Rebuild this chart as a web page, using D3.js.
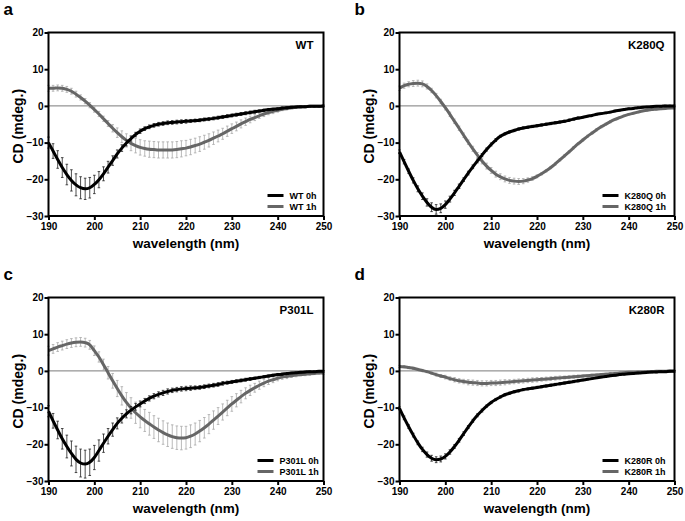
<!DOCTYPE html>
<html>
<head>
<meta charset="utf-8">
<script src="https://cdn.jsdelivr.net/npm/d3@7"></script>
<style>
  body { margin: 0; background: #fff; }
  svg text { font-family: "Liberation Sans", Arial, Helvetica, sans-serif; font-weight: bold; fill: #000; }
</style>
</head>
<body>
<svg id="fig" width="685" height="521"></svg>
<script>
// wavelength grid (nm), one reading per nm
const wavelengths = [190,191,192,193,194,195,196,197,198,199,200,201,202,203,204,205,206,207,208,209,
  210,211,212,213,214,215,216,217,218,219,220,221,222,223,224,225,226,227,228,229,
  230,231,232,233,234,235,236,237,238,239,240,241,242,243,244,245,246,247,248,249,250];

const xTicks = [190, 200, 210, 220, 230, 240, 250];
const yTicks = [-30, -20, -10, 0, 10, 20];

// CD (mdeg.)
const wt0h = [-10.0,-12.3,-14.6,-16.8,-18.7,-20.3,-21.5,-22.3,-22.6,-22.3,-21.4,-20.1,-18.5,-16.7,-14.9,-13.1,-11.5,-10.1,-8.9,-7.8,
  -6.9,-6.2,-5.7,-5.3,-5.0,-4.8,-4.6,-4.5,-4.4,-4.3,-4.2,-4.1,-4.0,-3.9,-3.7,-3.6,-3.4,-3.2,-3.0,-2.8,
  -2.6,-2.4,-2.2,-2.0,-1.8,-1.6,-1.4,-1.2,-1.0,-0.9,-0.8,-0.6,-0.5,-0.4,-0.3,-0.2,-0.2,-0.1,-0.1,-0.1,0.0];
const wt0hErr = [1.5,2.0,2.4,2.7,2.8,2.9,3.0,3.0,2.9,2.8,2.5,2.2,1.9,1.6,1.3,1.1,0.9,0.8,0.7,0.6,
  0.6,0.5,0.5,0.5,0.5,0.5,0.5,0.5,0.5,0.5,0.5,0.4,0.4,0.4,0.4,0.4,0.4,0.4,0.4,0.4,
  0.4,0.4,0.4,0.4,0.4,0.4,0.3,0.3,0.3,0.3,0.3,0.3,0.3,0.3,0.2,0.2,0.2,0.2,0.2,0.2,0.2];
const wt1h = [4.8,4.8,4.9,4.8,4.5,4.0,3.2,2.3,1.3,0.2,-1.0,-2.2,-3.5,-4.8,-6.1,-7.3,-8.4,-9.4,-10.2,-10.8,
  -11.3,-11.6,-11.8,-11.9,-12.0,-12.0,-12.0,-12.0,-11.9,-11.7,-11.5,-11.2,-10.8,-10.4,-9.9,-9.4,-8.8,-8.2,-7.6,-6.9,
  -6.2,-5.6,-4.9,-4.3,-3.7,-3.2,-2.7,-2.2,-1.8,-1.5,-1.2,-0.9,-0.7,-0.5,-0.4,-0.3,-0.2,-0.1,-0.1,-0.1,0.0];
const wt1hErr = [0.8,0.8,0.8,0.8,0.8,0.8,0.8,0.7,0.7,0.7,0.7,0.7,0.7,0.8,1.0,1.3,1.6,1.8,2.0,2.0,
  2.1,2.1,2.2,2.2,2.2,2.2,2.2,2.2,2.2,2.2,2.1,2.1,2.0,2.0,1.9,1.8,1.7,1.6,1.5,1.4,
  1.3,1.2,1.1,1.0,0.9,0.8,0.7,0.7,0.6,0.6,0.5,0.4,0.4,0.3,0.3,0.3,0.3,0.2,0.2,0.2,0.2];

const k280q0h = [-12.5,-15.2,-17.8,-20.3,-22.6,-24.6,-26.3,-27.6,-28.2,-27.9,-26.9,-25.4,-23.7,-21.9,-20.1,-18.3,-16.6,-15.0,-13.4,-11.9,
  -10.5,-9.3,-8.3,-7.6,-7.1,-6.7,-6.3,-6.0,-5.8,-5.6,-5.4,-5.2,-5.0,-4.8,-4.6,-4.4,-4.2,-3.9,-3.6,-3.3,
  -3.1,-2.8,-2.6,-2.3,-2.1,-1.9,-1.7,-1.4,-1.2,-1.0,-0.8,-0.7,-0.5,-0.4,-0.3,-0.2,-0.1,-0.1,0.0,0.0,0.0];
const k280q0hErr = [0.5,0.6,0.6,0.7,0.8,0.9,1.0,1.2,1.3,1.2,1.0,0.8,0.7,0.6,0.5,0.5,0.5,0.5,0.4,0.4,
  0.4,0.4,0.3,0.3,0.3,0.3,0.3,0.3,0.3,0.3,0.3,0.3,0.3,0.3,0.3,0.3,0.3,0.3,0.3,0.3,
  0.2,0.2,0.2,0.2,0.2,0.2,0.2,0.2,0.2,0.2,0.2,0.2,0.2,0.2,0.2,0.2,0.2,0.2,0.2,0.2,0.2];
const k280q1h = [4.8,5.5,5.9,6.1,6.2,6.0,5.3,4.2,2.8,1.2,-0.5,-2.3,-4.2,-6.1,-8.0,-9.9,-11.7,-13.4,-15.0,-16.4,
  -17.6,-18.6,-19.3,-19.9,-20.3,-20.5,-20.6,-20.5,-20.2,-19.8,-19.2,-18.5,-17.7,-16.8,-15.8,-14.7,-13.6,-12.5,-11.4,-10.3,
  -9.3,-8.3,-7.4,-6.5,-5.7,-5.0,-4.3,-3.7,-3.2,-2.7,-2.3,-2.0,-1.7,-1.4,-1.2,-1.0,-0.9,-0.8,-0.7,-0.6,-0.6];
const k280q1hErr = [0.6,0.7,0.7,0.8,0.8,0.8,0.7,0.6,0.6,0.6,0.6,0.6,0.6,0.6,0.6,0.6,0.7,0.7,0.8,0.8,
  0.8,0.8,0.8,0.8,0.8,0.8,0.8,0.7,0.6,0.5,0.4,0.3,0.3,0.3,0.3,0.3,0.3,0.3,0.3,0.3,
  0.3,0.3,0.3,0.3,0.3,0.3,0.3,0.2,0.2,0.2,0.2,0.2,0.2,0.2,0.2,0.2,0.2,0.2,0.2,0.2,0.2];

const p301l0h = [-11.0,-13.6,-16.1,-18.5,-20.6,-22.5,-24.1,-25.1,-25.4,-24.9,-23.6,-21.7,-19.7,-17.8,-16.0,-14.3,-12.9,-11.7,-10.7,-9.8,
  -9.0,-8.2,-7.5,-6.9,-6.4,-6.0,-5.6,-5.3,-5.1,-4.9,-4.8,-4.7,-4.6,-4.5,-4.3,-4.1,-3.9,-3.7,-3.4,-3.2,
  -3.0,-2.8,-2.6,-2.4,-2.2,-2.0,-1.8,-1.6,-1.4,-1.2,-1.0,-0.9,-0.7,-0.6,-0.5,-0.4,-0.3,-0.2,-0.2,-0.1,-0.1];
const p301l0hErr = [1.5,2.0,2.4,2.8,3.1,3.4,3.6,3.8,3.8,3.6,3.3,2.9,2.5,2.1,1.8,1.5,1.3,1.1,1.0,0.9,
  0.8,0.7,0.7,0.7,0.7,0.7,0.7,0.6,0.6,0.6,0.6,0.6,0.5,0.5,0.5,0.5,0.5,0.5,0.5,0.4,
  0.4,0.4,0.4,0.4,0.4,0.3,0.3,0.3,0.3,0.3,0.3,0.3,0.2,0.2,0.2,0.2,0.2,0.2,0.2,0.2,0.2];
const p301l1h = [5.5,6.0,6.5,6.9,7.3,7.6,7.8,7.9,7.7,7.1,5.5,3.8,1.7,-0.5,-2.7,-4.8,-6.8,-8.6,-10.1,-11.4,
  -12.5,-13.5,-14.4,-15.3,-16.1,-16.8,-17.4,-17.9,-18.2,-18.3,-18.2,-17.8,-17.2,-16.4,-15.5,-14.5,-13.4,-12.3,-11.2,-10.1,
  -9.0,-8.0,-7.0,-6.1,-5.3,-4.6,-3.9,-3.3,-2.8,-2.4,-2.0,-1.7,-1.5,-1.3,-1.1,-1.0,-0.9,-0.8,-0.7,-0.6,-0.6];
const p301l1hErr = [1.2,1.2,1.2,1.2,1.2,1.2,1.2,1.2,1.2,1.2,1.3,1.4,1.5,1.7,2.0,2.2,2.5,2.7,2.8,2.9,
  3.0,3.0,3.1,3.1,3.2,3.2,3.2,3.2,3.2,3.2,3.1,3.1,3.0,2.9,2.8,2.6,2.5,2.3,2.2,2.1,
  2.0,1.8,1.7,1.5,1.4,1.2,1.1,1.0,0.9,0.8,0.7,0.6,0.6,0.5,0.5,0.4,0.4,0.4,0.3,0.3,0.3];

const k280r0h = [-10.2,-12.8,-15.2,-17.5,-19.6,-21.4,-22.8,-23.8,-24.2,-24.0,-23.3,-22.1,-20.6,-18.9,-17.1,-15.3,-13.6,-12.1,-10.8,-9.6,
  -8.6,-7.8,-7.1,-6.5,-6.1,-5.7,-5.4,-5.1,-4.9,-4.7,-4.5,-4.3,-4.1,-3.9,-3.7,-3.5,-3.3,-3.1,-2.9,-2.7,
  -2.5,-2.3,-2.1,-1.9,-1.7,-1.5,-1.3,-1.2,-1.0,-0.9,-0.8,-0.7,-0.6,-0.5,-0.4,-0.3,-0.3,-0.2,-0.2,-0.1,-0.1];
const k280r0hErr = [0.4,0.5,0.5,0.5,0.5,0.6,0.7,0.8,0.8,0.8,0.7,0.6,0.5,0.5,0.5,0.4,0.4,0.4,0.4,0.3,
  0.3,0.3,0.3,0.3,0.3,0.3,0.3,0.3,0.3,0.3,0.3,0.3,0.3,0.3,0.3,0.3,0.3,0.3,0.3,0.3,
  0.2,0.2,0.2,0.2,0.2,0.2,0.2,0.2,0.2,0.2,0.2,0.2,0.2,0.2,0.2,0.2,0.2,0.2,0.2,0.2,0.2];
const k280r1h = [1.2,1.1,0.9,0.7,0.4,0.1,-0.2,-0.6,-1.0,-1.4,-1.7,-2.1,-2.4,-2.7,-2.9,-3.1,-3.2,-3.3,-3.4,-3.4,
  -3.3,-3.3,-3.2,-3.1,-3.0,-2.9,-2.8,-2.7,-2.6,-2.5,-2.4,-2.3,-2.2,-2.1,-2.0,-1.9,-1.8,-1.7,-1.6,-1.5,
  -1.4,-1.3,-1.2,-1.1,-1.0,-0.9,-0.8,-0.7,-0.6,-0.5,-0.4,-0.4,-0.3,-0.3,-0.2,-0.2,-0.1,-0.1,-0.1,0.0,0.0];
const k280r1hErr = [0.3,0.3,0.3,0.3,0.3,0.3,0.3,0.3,0.4,0.4,0.5,0.5,0.6,0.6,0.6,0.7,0.7,0.7,0.7,0.7,
  0.7,0.7,0.7,0.7,0.6,0.6,0.6,0.6,0.6,0.6,0.6,0.5,0.5,0.5,0.5,0.5,0.4,0.4,0.4,0.4,
  0.3,0.3,0.3,0.3,0.3,0.3,0.3,0.3,0.3,0.2,0.2,0.2,0.2,0.2,0.2,0.2,0.2,0.2,0.2,0.2,0.2];

const W = 275, H = 183.5;

// one entry per panel; legX = where the legend text starts (px from plot left)
const panels = [
  {letter: "a", name: "WT",    s0: wt0h,    e0: wt0hErr,    s1: wt1h,    e1: wt1hErr,    x: 48.5,  y: 32.5,  legX: 241},
  {letter: "b", name: "K280Q", s0: k280q0h, e0: k280q0hErr, s1: k280q1h, e1: k280q1hErr, x: 399.5, y: 32.5,  legX: 225},
  {letter: "c", name: "P301L", s0: p301l0h, e0: p301l0hErr, s1: p301l1h, e1: p301l1hErr, x: 48.5,  y: 297.5, legX: 231},
  {letter: "d", name: "K280R", s0: k280r0h, e0: k280r0hErr, s1: k280r1h, e1: k280r1hErr, x: 399.5, y: 297.5, legX: 225}
];

const svg = d3.select("#fig");

const x = d3.scaleLinear().domain([190, 250]).range([0, W]);
const y = d3.scaleLinear().domain([-30, 20]).range([H, 0]);

function drawSeries(g, vals, errs, lineColor, barColor) {
  // error bars with small caps
  let d = "";
  wavelengths.forEach((w, i) => {
    const px = x(w), y1 = y(vals[i] - errs[i]), y2 = y(vals[i] + errs[i]);
    d += `M${px},${y1}V${y2}M${px - 1.3},${y1}h2.6M${px - 1.3},${y2}h2.6`;
  });
  g.append("path").attr("d", d).attr("fill", "none")
    .attr("stroke", barColor).attr("stroke-width", 0.8);

  const line = d3.line()
    .x((w, i) => x(w))
    .y((w, i) => y(vals[i]))
    .curve(d3.curveMonotoneX);
  g.append("path").datum(wavelengths).attr("d", line)
    .attr("fill", "none").attr("stroke", lineColor).attr("stroke-width", 3);
}

panels.forEach(p => {
  const g = svg.append("g").attr("transform", `translate(${p.x},${p.y})`);

  // panel letter
  svg.append("text").attr("x", p.x - 45).attr("y", p.y - 18)
    .attr("font-size", 17).text(p.letter);

  // zero line
  g.append("line").attr("x1", 0).attr("x2", W).attr("y1", y(0)).attr("y2", y(0))
    .attr("stroke", "#7a7a7a").attr("stroke-width", 1);

  drawSeries(g, p.s1, p.e1, "#666", "#a8a8a8");
  drawSeries(g, p.s0, p.e0, "#000", "#222");

  // frame
  g.append("rect").attr("width", W).attr("height", H)
    .attr("fill", "none").attr("stroke", "#000").attr("stroke-width", 2);

  // axes
  const xa = g.append("g").attr("transform", `translate(0,${H})`)
    .call(d3.axisBottom(x).tickValues(xTicks).tickSize(4).tickPadding(3).tickSizeOuter(0));
  const ya = g.append("g")
    .call(d3.axisLeft(y).tickValues(yTicks).tickSize(4).tickPadding(1).tickSizeOuter(0));
  [xa, ya].forEach(a => {
    a.select(".domain").remove();
    a.selectAll(".tick line").attr("stroke", "#000").attr("stroke-width", 2);
    a.selectAll(".tick text").attr("font-size", 10).attr("font-family", null);
  });

  // axis titles
  g.append("text").attr("x", W / 2).attr("y", H + 32)
    .attr("text-anchor", "middle").attr("font-size", 13.5).text("wavelength (nm)");
  g.append("text").attr("transform", `translate(-26,${H / 2 + 2}) rotate(-90)`)
    .attr("text-anchor", "middle").attr("font-size", 14).text("CD (mdeg.)");

  // panel title
  g.append("text").attr("x", W - 10).attr("y", 16)
    .attr("text-anchor", "end").attr("font-size", 11.5).text(p.name);

  // legend
  [[p.name + " 0h", "#000"], [p.name + " 1h", "#666"]].forEach((d, i) => {
    const ly = H - 20.5 + i * 11;
    g.append("line").attr("x1", p.legX - 22).attr("x2", p.legX - 6)
      .attr("y1", ly).attr("y2", ly)
      .attr("stroke", d[1]).attr("stroke-width", 3);
    g.append("text").attr("x", p.legX).attr("y", ly + 3.5)
      .attr("font-size", 9).text(d[0]);
  });
});
</script>
</body>
</html>
